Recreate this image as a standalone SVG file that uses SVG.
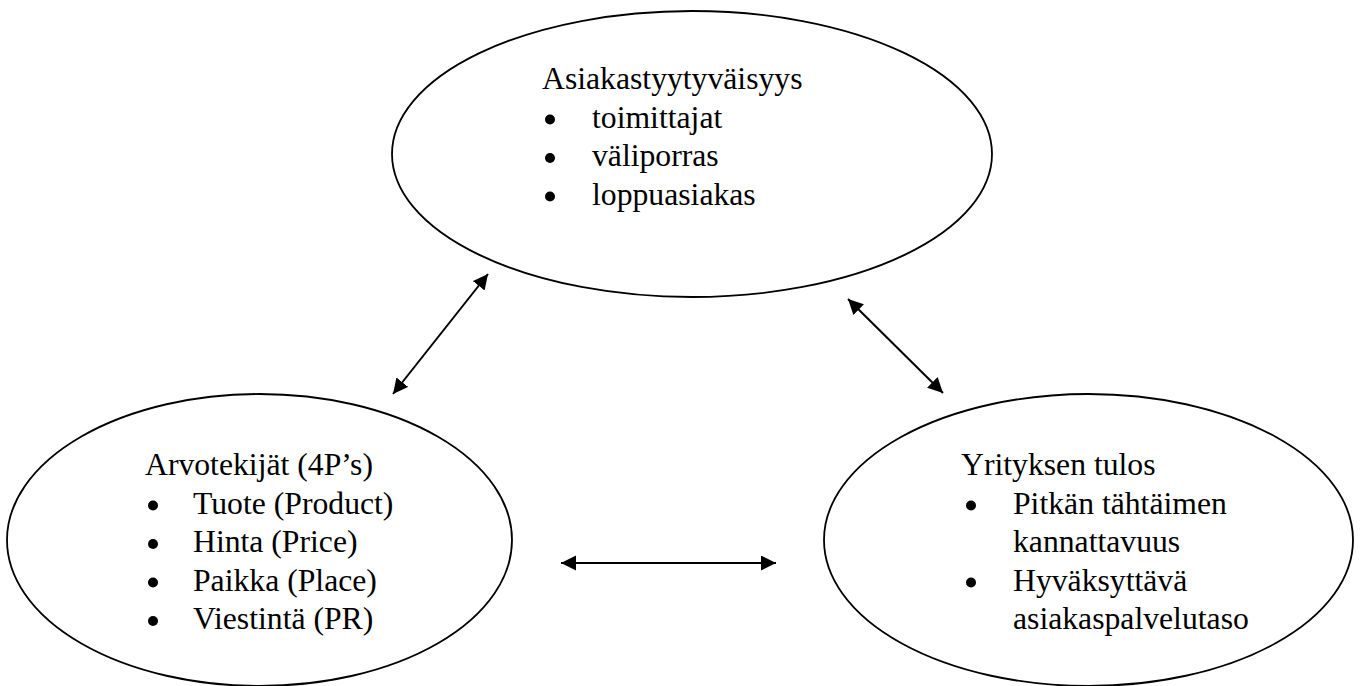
<svg xmlns="http://www.w3.org/2000/svg" width="1362" height="686" viewBox="0 0 1362 686">
  <defs>
    <marker id="head" markerUnits="userSpaceOnUse" markerWidth="16" markerHeight="16" refX="15" refY="7.5" orient="auto-start-reverse">
      <path d="M0,0 L15,7.5 L0,15 Z" fill="#000"/>
    </marker>
    <style>
      .node ellipse { fill: #fff; stroke: #000; stroke-width: 1.8; }
      .node text { font-family: "Liberation Serif", "Times New Roman", serif; font-size: 31.7px; fill: #000; }
      .node circle { fill: #000; }
      .link { stroke: #000; stroke-width: 2; fill: none; marker-start: url(#head); marker-end: url(#head); }
    </style>
  </defs>
  <rect width="1362" height="686" fill="#fff"/>

  <!-- Customer satisfaction -->
  <g id="asiakastyytyvaisyys" class="node">
    <ellipse cx="692" cy="154" rx="300" ry="143"/>
    <text x="542" y="89">Asiakastyytyväisyys</text>
    <circle cx="550" cy="119.5" r="5"/>
    <text x="592" y="127.5">toimittajat</text>
    <circle cx="550" cy="158" r="5"/>
    <text x="592" y="166">väliporras</text>
    <circle cx="550" cy="196.5" r="5"/>
    <text x="592" y="204.5">loppuasiakas</text>
  </g>

  <!-- Value factors (4P) -->
  <g id="arvotekijat" class="node">
    <ellipse cx="259.5" cy="540" rx="252.5" ry="146"/>
    <text x="145" y="475">Arvotekijät (4P’s)</text>
    <circle cx="153" cy="505.5" r="5"/>
    <text x="193" y="513.5">Tuote (Product)</text>
    <circle cx="153" cy="544" r="5"/>
    <text x="193" y="552">Hinta (Price)</text>
    <circle cx="153" cy="582.5" r="5"/>
    <text x="193" y="590.5">Paikka (Place)</text>
    <circle cx="153" cy="621" r="5"/>
    <text x="193" y="629">Viestintä (PR)</text>
  </g>

  <!-- Company result -->
  <g id="yrityksen-tulos" class="node">
    <ellipse cx="1088.5" cy="540" rx="264.5" ry="146"/>
    <text x="961" y="475">Yrityksen tulos</text>
    <circle cx="971" cy="505.5" r="5"/>
    <text x="1013" y="513.5">Pitkän tähtäimen</text>
    <text x="1013" y="552">kannattavuus</text>
    <circle cx="971" cy="582.5" r="5"/>
    <text x="1013" y="590.5">Hyväksyttävä</text>
    <text x="1013" y="629">asiakaspalvelutaso</text>
  </g>

  <!-- Two-way connectors -->
  <g id="connectors">
    <line class="link" x1="488" y1="274" x2="393" y2="394"/>
    <line class="link" x1="848" y1="299" x2="943" y2="393"/>
    <line class="link" x1="561" y1="563" x2="776" y2="563"/>
  </g>
</svg>
